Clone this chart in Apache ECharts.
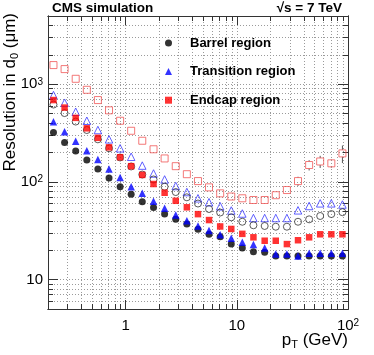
<!DOCTYPE html>
<html>
<head>
<meta charset="utf-8">
<script src="https://cdn.jsdelivr.net/npm/echarts@6/dist/echarts.min.js"></script>
<style>
  html, body { margin: 0; padding: 0; background: #fff; }
  #chart { width: 374px; height: 355px; }
</style>
</head>
<body>
<div id="chart"></div>
<script>
// pT bin centres (GeV)
const ptValues = [0.224, 0.282, 0.355, 0.447, 0.562, 0.708, 0.891, 1.12, 1.41, 1.78, 2.24, 2.82, 3.55, 4.47,
  5.62, 7.08, 8.91, 11.2, 14.1, 17.8, 22.4, 28.2, 35.5, 44.7, 56.2, 70.8, 89.1];

// resolution in d0 (um), filled = full markers, open = hollow markers
const barrelFilled = [320, 254, 207, 168, 136, 110, 89.3, 74.7, 62.7, 54.7, 46.9, 41.4, 37.1, 32.8,
  29.1, 27.5, 23.2, 21.1, 19.3, 19.0, 17.4, 17.4, 17.4, 17.4, 17.4, 17.4, 17.4];
const barrelOpen = [620, 507, 415, 340, 273, 221, 178, 144, 119, 106, 89.3, 78.8, 69.6, 60.1,
  52.8, 48.6, 43.4, 39.1, 36.0, 35.4, 34.8, 34.8, 39.1, 41.4, 44.8, 46.9, 49.0];
const transFilled = [413, 326, 261, 209, 170, 136, 111, 89.3, 76.4, 63.5, 53.7, 45.8, 40.1, 35.4,
  31.9, 28.8, 26.5, 24.1, 22.9, 21.1, 18.3, 18.3, 17.4, 18.6, 18.6, 18.6, 18.6];
const transOpen = [775, 647, 523, 423, 340, 273, 221, 181, 147, 122, 106, 90.8, 78.8, 68.0,
  62.0, 56.3, 51.0, 47.5, 42.7, 42.7, 42.7, 42.7, 51.2, 56.7, 60.4, 60.4, 58.7];
const endcapFilled = [689, 577, 453, 354, 283, 226, 179, 145, 118, 95.2, 77.5, 64.1, 55.0, 46.8,
  40.7, 35.0, 33.0, 29.4, 27.1, 25.0, 25.0, 23.1, 25.3, 27.1, 29.1, 29.1, 29.1];
const endcapOpen = [1572, 1430, 1138, 878, 689, 541, 423, 334, 264, 216, 174, 145, 120, 102,
  88.0, 76.4, 70.9, 68.0, 65.3, 65.3, 73.1, 82.6, 102, 149, 162, 155, 196];
const endcapOpenErr = [0, 0, 0, 0, 0, 0, 0, 0, 0, 0, 0, 0, 0, 0,
  0, 0, 0, 0, 0, 0, 0, 0, 11, 18, 23, 15, 40];

const xMajorTicks = [1, 10, 100];
const xMinorTicks = [0.2, 0.3, 0.4, 0.5, 0.6, 0.7, 0.8, 0.9, 2, 3, 4, 5, 6, 7, 8, 9, 20, 30, 40, 50, 60, 70, 80, 90];
const xTickLabels = ['1', '10', '10^2'];
const yMajorTicks = [10, 100, 1000];
const yMinorTicks = [5, 6, 7, 8, 9, 20, 30, 40, 50, 60, 70, 80, 90, 200, 300, 400, 500, 600, 700, 800, 900,
  2000, 3000, 4000, 5000];
const yTickLabels = ['10', '10^2', '10^3'];

const FONT = '"Liberation Sans", Arial, sans-serif';

const pairs = (ys) => ptValues.map((x, i) => [x, ys[i]]);

// "10^2" -> rich text with a superscript
const tickFormatter = (ticks, labels) => (v) => {
  let best = 0;
  ticks.forEach((t, i) => { if (Math.abs(Math.log10(t / v)) < Math.abs(Math.log10(ticks[best] / v))) best = i; });
  const parts = labels[best].split('^');
  return '{b|' + parts[0] + '}' + (parts[1] ? '{sup|' + parts[1] + '}' : '');
};

const gridLine = { show: true, lineStyle: { color: '#9a9a9a', width: 1, type: [1, 2] } };
const labelRich = {
  b: { fontFamily: FONT, fontSize: 15, color: '#000', verticalAlign: 'top' },
  sup: { fontFamily: FONT, fontSize: 10, color: '#000', verticalAlign: 'top' }
};

function xAxisDef(position, ticks, len, withLabel, withSplit) {
  return {
    type: 'log', logBase: 10, min: 0.2, max: 100, position: position,
    axisLine: { show: true, lineStyle: { color: '#333', width: 1 } },
    axisTick: { show: true, inside: true, length: len, customValues: ticks, lineStyle: { color: '#333' } },
    axisLabel: withLabel ? {
      show: true, customValues: xMajorTicks, margin: 9,
      formatter: tickFormatter(xMajorTicks, xTickLabels),
      rich: labelRich
    } : { show: false },
    splitLine: withSplit ? gridLine : { show: false },
    minorTick: { show: false }, minorSplitLine: { show: false }
  };
}

function yAxisDef(position, ticks, len, withLabel, withSplit) {
  return {
    type: 'log', logBase: 10, min: 5, max: 5000, position: position,
    axisLine: { show: true, lineStyle: { color: '#333', width: 1 } },
    axisTick: { show: true, inside: true, length: len, customValues: ticks, lineStyle: { color: '#333' } },
    axisLabel: withLabel ? {
      show: true, customValues: yMajorTicks, margin: 5,
      formatter: tickFormatter(yMajorTicks, yTickLabels),
      rich: labelRich
    } : { show: false },
    splitLine: withSplit ? gridLine : { show: false },
    minorTick: { show: false }, minorSplitLine: { show: false }
  };
}

const xAxes = [
  xAxisDef('bottom', xMajorTicks, 9, true, true),
  xAxisDef('bottom', xMinorTicks, 5, false, true),
  xAxisDef('top', xMajorTicks, 9, false, false),
  xAxisDef('top', xMinorTicks, 5, false, false)
];
xAxes[0].name = 'p{sub|T} (GeV)';
xAxes[0].nameLocation = 'end';
xAxes[0].nameGap = 0;
xAxes[0].nameMoveOverlap = false;
xAxes[0].nameTextStyle = {
  fontFamily: FONT, fontSize: 17, color: '#000', align: 'right', verticalAlign: 'top', padding: [21, 0, 0, 0],
  rich: { sub: { fontFamily: FONT, fontSize: 11, color: '#000', padding: [9, 0, 0, 0] } }
};

const yAxes = [
  yAxisDef('left', yMajorTicks, 10, true, true),
  yAxisDef('left', yMinorTicks, 5, false, true),
  yAxisDef('right', yMajorTicks, 10, false, false),
  yAxisDef('right', yMinorTicks, 5, false, false)
];
yAxes[0].name = 'Resolution in d{sub|0} (μm)';
yAxes[0].nameLocation = 'end';
yAxes[0].nameGap = 3;
yAxes[0].nameRotate = 90;
yAxes[0].nameMoveOverlap = false;
yAxes[0].nameTextStyle = {
  fontFamily: FONT, fontSize: 17, color: '#000', align: 'right', verticalAlign: 'bottom', padding: [0, 0, 28, 0],
  rich: { sub: { fontFamily: FONT, fontSize: 11, color: '#000', padding: [9, 0, 0, 0] } }
};

const hollow = (col) => ({ color: 'rgba(0,0,0,0)', borderColor: col, borderWidth: 1 });

const chart = echarts.init(document.getElementById('chart'));
chart.setOption({
  animation: false,
  backgroundColor: '#fff',
  grid: { left: 48, right: 26, top: 16, bottom: 46, containLabel: false, outerBoundsMode: 'none' },
  xAxis: xAxes,
  yAxis: yAxes,
  legend: {
    data: ['Barrel region', 'Transition region', 'Endcap region'],
    orient: 'vertical', left: 165, top: 35, padding: 0,
    itemWidth: 7, itemHeight: 7, itemGap: 12.6,
    selectedMode: false,
    textStyle: { fontFamily: FONT, fontWeight: 'bold', fontSize: 13, color: '#000', lineHeight: 16, padding: [0, 0, 0, 13] }
  },
  graphic: [
    { type: 'text', left: 52, top: 1, style: { text: 'CMS simulation', font: 'bold 13.5px ' + FONT, fill: '#000' } },
    { type: 'text', right: 32, top: 1, style: { text: '√s = 7 TeV', font: 'bold 13.5px ' + FONT, fill: '#000' } }
  ],
  series: [
    {
      name: 'err', type: 'custom', silent: true, z: 3,
      data: ptValues.map((x, i) => [x, endcapOpen[i], endcapOpenErr[i]]).filter((d) => d[2] > 0),
      renderItem: (params, api) => {
        const x = api.value(0), y = api.value(1), e = api.value(2);
        const c = api.coord([x, y]);
        const hi = api.coord([x, y + e]);
        const lo = api.coord([x, y - e]);
        const st = { stroke: '#555', lineWidth: 1 };
        return { type: 'group', children: [
          { type: 'line', shape: { x1: c[0], y1: hi[1], x2: c[0], y2: c[1] - 3.5 }, style: st },
          { type: 'line', shape: { x1: c[0], y1: c[1] + 3.5, x2: c[0], y2: lo[1] }, style: st }
        ] };
      }
    },
    { name: 'Endcap open', type: 'scatter', symbol: 'rect', symbolSize: 7, z: 3, data: pairs(endcapOpen), itemStyle: hollow('#f05656') },
    { name: 'Transition open', type: 'scatter', symbol: 'triangle', symbolSize: 7.5, z: 3, data: pairs(transOpen), itemStyle: hollow('#3a3aff') },
    { name: 'Barrel open', type: 'scatter', symbol: 'circle', symbolSize: 7, z: 3, data: pairs(barrelOpen), itemStyle: hollow('#333') },
    { name: 'Barrel region', type: 'scatter', symbol: 'circle', symbolSize: 7, z: 4, data: pairs(barrelFilled), itemStyle: { color: '#000' } },
    { name: 'Transition region', type: 'scatter', symbol: 'triangle', symbolSize: 7.5, z: 4, data: pairs(transFilled), itemStyle: { color: '#0000ff' } },
    { name: 'Endcap region', type: 'scatter', symbol: 'rect', symbolSize: 6.5, z: 4, data: pairs(endcapFilled), itemStyle: { color: '#ff0000' } }
  ]
});
</script>
</body>
</html>
